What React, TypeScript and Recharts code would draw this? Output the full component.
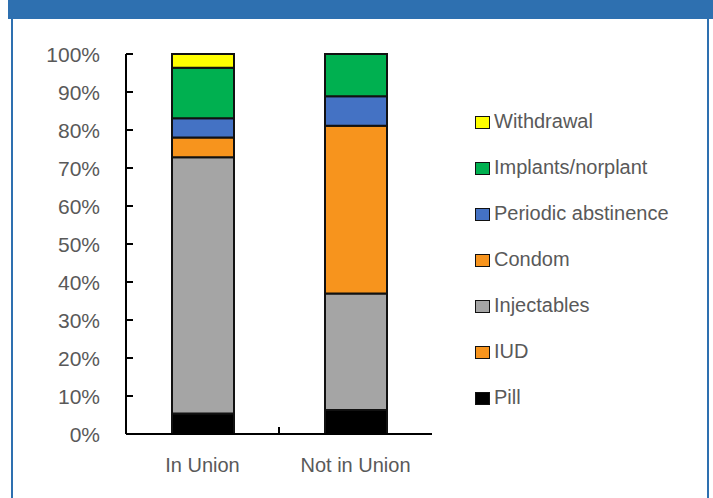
import React from 'react'
import { BarChart, Bar, XAxis, YAxis, Legend } from 'recharts'

const categories = ['In Union', 'Not in Union']
const pill = [5.4, 6.3]
const iud = [0, 0]
const injectables = [67.4, 30.7]
const condom = [5.2, 44.1]
const periodic = [5.1, 7.8]
const implants = [13.3, 11.1]
const withdrawal = [3.6, 0]
const yTicks = [0, 10, 20, 30, 40, 50, 60, 70, 80, 90, 100]

// stack order bottom -> top
const SERIES = [
  { key: 'pill', name: 'Pill', color: '#000000' },
  { key: 'iud', name: 'IUD', color: '#f7941d' },
  { key: 'injectables', name: 'Injectables', color: '#a5a5a5' },
  { key: 'condom', name: 'Condom', color: '#f7941d' },
  { key: 'periodic', name: 'Periodic abstinence', color: '#4472c4' },
  { key: 'implants', name: 'Implants/norplant', color: '#00b050' },
  { key: 'withdrawal', name: 'Withdrawal', color: '#ffff00' }
]

const data = categories.map((c, i) => ({
  name: c,
  pill: pill[i],
  iud: iud[i],
  injectables: injectables[i],
  condom: condom[i],
  periodic: periodic[i],
  implants: implants[i],
  withdrawal: withdrawal[i]
}))

const FONT = '"Liberation Sans Narrow", "Liberation Sans", sans-serif'
const TEXT = '#595959'
const BLUE = '#2e70b0'
const textStyle = { fontStretch: 'condensed' as const }

const XTick = ({ x, y, payload, index }: any) => (
  <g>
    <text
      x={x}
      y={y + 31}
      textAnchor="middle"
      dominantBaseline="central"
      fill={TEXT}
      fontSize={20}
      fontFamily={FONT}
      style={textStyle}
    >
      {payload.value}
    </text>
    {index === 0 && (
      <line x1={x + 76.5} x2={x + 76.5} y1={y} y2={y - 7} stroke="#000" strokeWidth={2} />
    )}
  </g>
)

const YTick = ({ x, y, payload }: any) => (
  <text
    x={x}
    y={y}
    textAnchor="end"
    dominantBaseline="central"
    fill={TEXT}
    fontSize={21}
    fontFamily={FONT}
    style={textStyle}
  >
    {`${payload.value}%`}
  </text>
)

const renderLegend = () => (
  <div style={{ fontFamily: FONT, fontStretch: 'condensed' }}>
    {[...SERIES].reverse().map((s) => (
      <div key={s.key} style={{ height: 46, display: 'flex', alignItems: 'center' }}>
        <span
          style={{
            width: 13,
            height: 11,
            background: s.color,
            border: '1.5px solid #111',
            display: 'inline-block',
            marginTop: 3
          }}
        />
        <span style={{ marginLeft: 4, fontSize: 20, color: TEXT }}>{s.name}</span>
      </div>
    ))}
  </div>
)

export default function App() {
  return (
    <div style={{ position: 'absolute', left: 0, top: 0, width: 713, height: 498, background: '#fff' }}>
      <div
        style={{
          position: 'absolute',
          left: 11,
          top: 0,
          width: 698,
          height: 498,
          boxSizing: 'border-box',
          borderLeft: `2px solid ${BLUE}`,
          borderRight: `2px solid ${BLUE}`
        }}
      />
      <div style={{ position: 'absolute', left: 8, top: 0, width: 705, height: 19, background: BLUE }} />
      <div style={{ position: 'absolute', left: 0, top: 0 }}>
        <BarChart
          width={713}
          height={498}
          data={data}
          margin={{ top: 54, right: 281, bottom: 0, left: 0 }}
          barSize={62}
        >
          <XAxis
            dataKey="name"
            height={64}
            axisLine={{ stroke: '#000', strokeWidth: 2 }}
            tickLine={false}
            tickSize={0}
            tickMargin={0}
            tick={<XTick />}
            interval={0}
          />
          <YAxis
            width={126}
            domain={[0, 100]}
            ticks={yTicks}
            interval={0}
            axisLine={{ stroke: '#000', strokeWidth: 2 }}
            tickLine={{ stroke: '#000', strokeWidth: 2 }}
            tickSize={-7}
            tickMargin={33}
            tick={<YTick />}
          />
          <Legend
            layout="vertical"
            align="center"
            verticalAlign="middle"
            content={renderLegend}
            wrapperStyle={{ position: 'absolute', left: 475, top: 98, width: 230 }}
          />
          {SERIES.map((s) => (
            <Bar
              key={s.key}
              dataKey={s.key}
              name={s.name}
              stackId="a"
              fill={s.color}
              stroke="#111"
              strokeWidth={2}
              isAnimationActive={false}
            />
          ))}
        </BarChart>
      </div>
    </div>
  )
}
